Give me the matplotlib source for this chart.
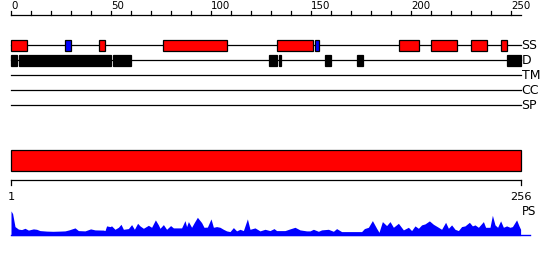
import matplotlib.pyplot as plt
from matplotlib.patches import Rectangle

# protein length and feature tracks (residue start, residue end)
seq_len = 256
helices = [(1, 9), (45, 48), (77, 109), (134, 152), (195, 205), (211, 224), (231, 239), (246, 249)]
strands = [(28, 31), (153, 155)]
disorder = [(1, 4), (5, 51), (52, 61), (130, 134), (135, 136), (158, 161), (174, 177), (249, 256)]
track_names = ['SS', 'D', 'TM', 'CC', 'SP']
domains = [(1, 256)]

ruler_ticks = list(range(0, 251, 10))
ruler_labels = [0, 50, 100, 150, 200, 250]

# PS profile (residue, score)
ps_res = [1, 1.8, 3, 4.7, 6.3, 8, 9.7, 12.2, 13.8, 15.5, 18.8, 22, 25.5, 28, 30, 33, 34.7, 38, 40.8, 43,
          47.2, 48, 48.8, 50.5, 51.3, 53, 54.7, 56, 57.2, 59.7, 61.3, 62.7, 64.3, 65.5, 67.2, 69.7, 71.3,
          73.2, 74.7, 75.5, 77.2, 78.8, 80.8, 82.2, 86.3, 88, 88.8, 89.7, 91.3, 92.7, 94.2, 95.5, 96.3,
          97.5, 99.2, 101, 102.2, 103.8, 105.5, 107.2, 108.8, 110.5, 112.2, 113.8, 115.5, 117.2, 119.2,
          120.5, 123, 125.5, 128, 130.5, 132.5, 133.8, 138, 140.5, 143, 145.5, 148.8, 150.5, 152.2, 154.7,
          156.3, 159.7, 162.2, 163.8, 166.3, 171.3, 176.3, 177.7, 179.7, 181.7, 183.8, 185, 186.7, 188.8,
          190.5, 192.2, 194.7, 197.2, 199.7, 201.3, 203, 204.7, 206.3, 208, 210.2, 212.2, 214.7, 216.3,
          218.3, 219.7, 221.3, 223, 224.7, 226.3, 228, 230.2, 231.7, 233, 234.7, 237.2, 238.3, 240.5,
          241.7, 243, 244.3, 245.8, 247.2, 248.8, 250.5, 251.7, 253.8, 255, 255.8]
ps_val = [24.7, 22, 9, 6.5, 6, 7.3, 5.5, 6.7, 6.3, 5, 4.5, 4.3, 4.5, 4.7, 5.7, 7.7, 5, 4.7, 6.7, 5.7,
          5.5, 5, 9.7, 9, 9.7, 6.3, 8.3, 11.3, 6.3, 7, 11, 6.3, 12.3, 9.7, 7.3, 10.3, 8.3,
          15.7, 10.7, 7.3, 11, 6.3, 10, 7.7, 7.7, 15, 9, 14, 8.3, 13.3, 18.3, 15, 13,
          8.3, 8.5, 16.7, 8.3, 9, 8.3, 6.3, 4.7, 4, 8, 4.7, 6.3, 5, 16.7,
          6.3, 7.7, 4.7, 6.3, 5, 7, 5, 5, 6.7, 8.3, 5.7, 4.7, 4.7, 6.3, 4.3,
          5.7, 6.3, 4.3, 7, 4, 4, 4, 7, 8.3, 15, 7.3, 3.3, 14, 10,
          14, 8.3, 12.3, 5.7, 8.3, 5, 9.7, 7.3, 10.7, 11.7, 14.7, 11.3, 8.3, 6.3,
          13.3, 7.3, 10.7, 6.3, 5, 9, 9.7, 13.3, 9.7, 10.7, 8.3, 14, 8.3, 8.3,
          20.3, 10.7, 8.3, 14.7, 8.3, 9.7, 8.3, 9, 15.7, 9.7, 6.3]

fig = plt.figure(figsize=(5.5, 2.6), dpi=100)
ax = fig.add_axes([0, 0, 1, 1])
ax.set_xlim(-5.5, 269.5)
ax.set_ylim(260, 0)
ax.axis('off')

lw = 0.9

# top ruler
ax.plot([0, seq_len - 1], [15, 15], color='black', lw=lw)
for t in ruler_ticks:
    ax.plot([t, t], [15, 10.5], color='black', lw=lw)
for t in ruler_labels:
    ax.text(t, 8.8, str(t), ha='left', va='baseline', fontsize=7.4, color='black')

# feature tracks
track_y = [45, 60, 75, 90, 105]
for name, y in zip(track_names, track_y):
    ax.plot([0, seq_len - 1], [y, y], color='black', lw=lw)
    ax.text(seq_len - 0.7, y + 0.3, name, ha='left', va='center', fontsize=9, color='black')


def boxes(segs, y, h, color):
    for s, e in segs:
        ax.add_patch(Rectangle((s - 1, y - h / 2), e - s, h, facecolor=color, edgecolor='black', lw=lw, zorder=3))


boxes(helices, 45.3, 10.5, '#ff0000')
boxes(strands, 45.3, 10.5, '#0000ff')
boxes(disorder, 60.5, 11, 'black')

# domain bar
for s, e in domains:
    ax.add_patch(Rectangle((s - 1, 150), e - s, 20.5, facecolor='#ff0000', edgecolor='black', lw=lw, zorder=3))

# bottom ruler
ax.plot([0, seq_len - 1], [180.3, 180.3], color='black', lw=lw)
for t in [0, seq_len - 1]:
    ax.plot([t, t], [180.3, 185], color='black', lw=lw)
ax.text(0, 200, '1', ha='center', va='baseline', fontsize=8.2)
ax.text(seq_len - 1, 200, str(seq_len), ha='center', va='baseline', fontsize=8.2)
ax.text(seq_len - 0.7, 215, 'PS', ha='left', va='baseline', fontsize=8.5)

# PS profile
base = 235.6
xs = [r - 1 for r in ps_res]
ys = [base - v for v in ps_val]
ax.fill_between([0] + xs + [xs[-1]], [base] + ys + [base], base, color='#0000ff', lw=0, zorder=2)
ax.plot([0, 259.5], [base - 0.5, base - 0.5], color='#0000ff', lw=1)

fig.savefig('out.png', dpi=100)
